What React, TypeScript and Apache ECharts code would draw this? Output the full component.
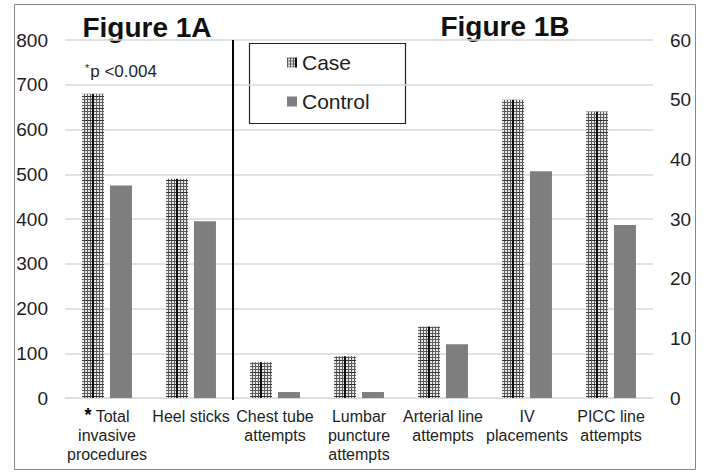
import React, { useEffect, useRef } from "react";
import * as echarts from "echarts";

const categories = [
  "Total\ninvasive\nprocedures",
  "Heel sticks",
  "Chest tube\nattempts",
  "Lumbar\npuncture\nattempts",
  "Arterial line\nattempts",
  "IV\nplacements",
  "PICC line\nattempts",
];
// Figure 1A (left axis)
const caseA = [680, 490, "-", "-", "-", "-", "-"];
const controlA = [475, 395, "-", "-", "-", "-", "-"];
// Figure 1B (right axis)
const caseB = ["-", "-", 6, 7, 12, 50, 48];
const controlB = ["-", "-", 1, 1, 9, 38, 29];

const leftAxis = { min: 0, max: 800, interval: 100 };
const rightAxis = { min: 0, max: 60, interval: 10 };

const FONT = "'Liberation Sans', Arial, sans-serif";
const TEXT = "#1e1e1e";
const CONTROL_COLOR = "#7f7f7f";

function makeCasePattern(): HTMLCanvasElement {
  const c = document.createElement("canvas");
  c.width = 84;
  c.height = 48;
  const g = c.getContext("2d")!;
  g.fillStyle = "#e8e8e8";
  g.fillRect(0, 0, 84, 48);
  g.fillStyle = "#5c5c5c";
  for (let x = 0; x < 84; x += 3) g.fillRect(x, 0, 1, 48);
  for (let y = 0; y < 48; y += 3) g.fillRect(0, y, 84, 1);
  g.fillStyle = "#333";
  for (let y = 0; y < 48; y += 12) g.fillRect(0, y, 84, 1);
  g.fillStyle = "#0d0d0d";
  g.fillRect(8, 0, 2, 48);
  return c;
}

export default function App() {
  const ref = useRef<HTMLDivElement>(null);

  useEffect(() => {
    if (!ref.current) return;
    const chart = echarts.init(ref.current, undefined, { renderer: "svg" });
    const pattern = { image: makeCasePattern(), repeat: "repeat" as const };

    const xAxisBase = {
      type: "category" as const,
      data: categories,
      position: "bottom" as const,
    };

    chart.setOption({
      animation: false,
      backgroundColor: "#ffffff",
      textStyle: { fontFamily: FONT },
      grid: { left: 65, right: 54, top: 40, bottom: 77, containLabel: false },
      legend: {
        data: ["Case", "Control"],
        orient: "vertical",
        left: 287,
        top: 52,
        itemWidth: 10,
        itemHeight: 10,
        itemGap: 18,
        padding: 0,
        icon: "rect",
        textStyle: { fontFamily: FONT, fontSize: 21, color: TEXT, padding: [0, 0, 0, 0] },
        selectedMode: false,
      },
      xAxis: [
        {
          ...xAxisBase,
          axisLine: { show: true, lineStyle: { color: "#d9d9d9", width: 1 } },
          axisTick: { show: false },
          axisLabel: {
            interval: 0,
            hideOverlap: false,
            margin: 9,
            fontFamily: FONT,
            fontSize: 16,
            lineHeight: 19,
            color: TEXT,
            formatter: (v: string, i: number) => (i === 0 ? "{star|*} " + v : v),
            rich: {
              star: { fontFamily: FONT, fontSize: 18, fontWeight: "bold", color: "#000", lineHeight: 19, padding: [0, 0, 4, 0] },
            },
          },
          splitLine: { show: false },
        },
        { ...xAxisBase, show: false },
      ],
      yAxis: [
        {
          type: "value",
          position: "left",
          ...leftAxis,
          axisLine: { show: false },
          axisTick: { show: false },
          axisLabel: { fontFamily: FONT, fontSize: 19, color: TEXT, margin: 17 },
          splitLine: { show: true, lineStyle: { color: "#d9d9d9", width: 1.5 } },
        },
        {
          type: "value",
          position: "right",
          ...rightAxis,
          axisLine: { show: false },
          axisTick: { show: false },
          axisLabel: { fontFamily: FONT, fontSize: 19, color: TEXT, margin: 17 },
          splitLine: { show: false },
        },
      ],
      series: [
        {
          name: "Case",
          type: "bar",
          xAxisIndex: 0,
          yAxisIndex: 0,
          data: caseA,
          barWidth: 22,
          barGap: "27%",
          itemStyle: { color: pattern },
        },
        {
          name: "Control",
          type: "bar",
          xAxisIndex: 0,
          yAxisIndex: 0,
          data: controlA,
          barWidth: 22,
          barGap: "27%",
          itemStyle: { color: CONTROL_COLOR },
        },
        {
          name: "Case",
          type: "bar",
          xAxisIndex: 1,
          yAxisIndex: 1,
          data: caseB,
          barWidth: 22,
          barGap: "27%",
          itemStyle: { color: pattern },
        },
        {
          name: "Control",
          type: "bar",
          xAxisIndex: 1,
          yAxisIndex: 1,
          data: controlB,
          barWidth: 22,
          barGap: "27%",
          itemStyle: { color: CONTROL_COLOR },
        },
      ],
      graphic: [
        {
          type: "rect",
          id: "frame",
          silent: true,
          z: -10,
          shape: { x: 14.5, y: 4.5, width: 681, height: 465 },
          style: { fill: "none", stroke: "#8a8a8a", lineWidth: 1 },
        },
        {
          type: "text",
          id: "titleA",
          x: 147,
          y: 27,
          style: {
            text: "Figure 1A",
            font: `bold 28px ${FONT}`,
            fill: "#111",
            textAlign: "center",
            textVerticalAlign: "middle",
          },
        },
        {
          type: "text",
          id: "titleB",
          x: 505,
          y: 26,
          style: {
            text: "Figure 1B",
            font: `bold 28px ${FONT}`,
            fill: "#111",
            textAlign: "center",
            textVerticalAlign: "middle",
          },
        },
        {
          type: "text",
          id: "pnote",
          x: 85,
          y: 71,
          style: {
            text: "{s|*}p <0.004",
            font: `17px ${FONT}`,
            fill: TEXT,
            textVerticalAlign: "middle",
            rich: {
              s: { fontSize: 11, fontFamily: FONT, fill: TEXT, verticalAlign: "top", padding: [0, 1, 6, 0] },
            },
          },
        },
        {
          type: "rect",
          id: "legendBox",
          silent: true,
          shape: { x: 249.5, y: 43.5, width: 156, height: 80 },
          style: { fill: "none", stroke: "#222", lineWidth: 1.2 },
        },
      ],
    });

    const xHeel = chart.convertToPixel({ xAxisIndex: 0 }, categories[1]) as number;
    const xChest = chart.convertToPixel({ xAxisIndex: 0 }, categories[2]) as number;
    const yTop = chart.convertToPixel({ yAxisIndex: 0 }, leftAxis.max) as number;
    const yBottom = chart.convertToPixel({ yAxisIndex: 0 }, leftAxis.min) as number;
    const xd = Math.round((xHeel + xChest) / 2);
    chart.setOption({
      graphic: [
        {
          type: "line",
          id: "divider",
          silent: true,
          z: 10,
          shape: { x1: xd, y1: yTop, x2: xd, y2: yBottom + 2 },
          style: { stroke: "#000", lineWidth: 2 },
        },
      ],
    });

    return () => chart.dispose();
  }, []);

  return (
    <div
      ref={ref}
      style={{ position: "fixed", left: 0, top: 0, width: 707, height: 475 }}
    />
  );
}
